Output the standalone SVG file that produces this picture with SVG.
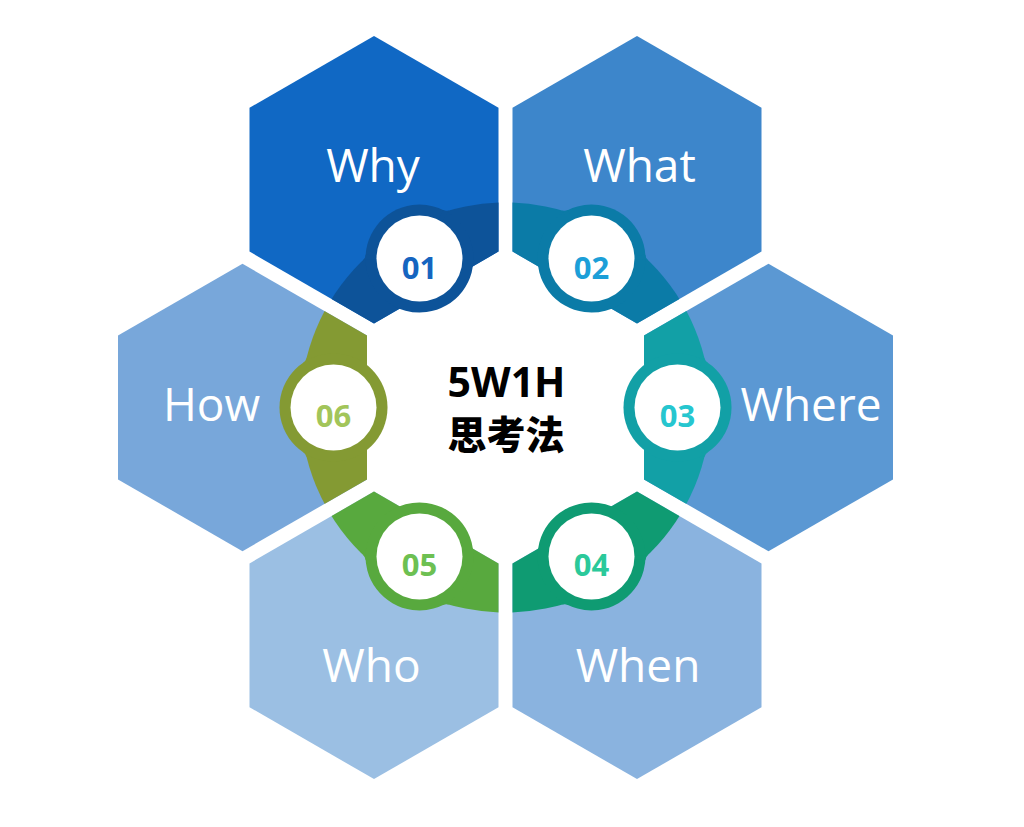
<svg xmlns="http://www.w3.org/2000/svg" xmlns:xlink="http://www.w3.org/1999/xlink" width="1024" height="827" viewBox="0 0 1024 827">
<style>
.lbl{font-family:"Open Sans","Noto Sans",sans-serif;font-size:46px;fill:#ffffff;text-anchor:middle}
.num{font-family:"Open Sans","Noto Sans",sans-serif;font-size:31px;font-weight:700;text-anchor:middle}
.ctr{font-family:"Noto Sans","Noto Sans CJK SC",sans-serif;font-size:41px;font-weight:700;fill:#000000;text-anchor:middle}
.cjk{font-family:"Noto Sans CJK SC",sans-serif;font-size:39px;font-weight:900;fill:#000000;text-anchor:middle}
.inner{fill:#ffffff}
</style>
<defs>
<polygon id="hex" points="0,-143.76 124.5,-71.88 124.5,71.88 0,143.76 -124.5,71.88 -124.5,-71.88"/>
<clipPath id="c1"><use xlink:href="#hex" href="#hex" x="374" y="179.7"/></clipPath>
<clipPath id="c2"><use xlink:href="#hex" href="#hex" x="637" y="179.7"/></clipPath>
<clipPath id="c3"><use xlink:href="#hex" href="#hex" x="768.5" y="407.5"/></clipPath>
<clipPath id="c4"><use xlink:href="#hex" href="#hex" x="637" y="635.3"/></clipPath>
<clipPath id="c5"><use xlink:href="#hex" href="#hex" x="374" y="635.3"/></clipPath>
<clipPath id="c6"><use xlink:href="#hex" href="#hex" x="242.5" y="407.5"/></clipPath>
<g id="badgeShape" fill="currentColor">
<circle cx="172" cy="0" r="54"/>
<path d="M198.95,49.44 A8,8 0 0 1 202.23,44.74 L172,0 Z"/>
<path d="M198.95,-49.44 A8,8 0 0 0 202.23,-44.74 L172,0 Z"/>
</g>
</defs>
<rect x="0" y="0" width="1024" height="827" fill="#ffffff"/>

<g id="node-why">
<use xlink:href="#hex" href="#hex" x="374" y="179.7" fill="#1068C4"/>
<circle cx="505.5" cy="407.5" r="205" fill="#0D5399" clip-path="url(#c1)"/>
<text class="lbl" x="373" y="182">Why</text>
</g>
<g id="node-what">
<use xlink:href="#hex" href="#hex" x="637" y="179.7" fill="#3D86CB"/>
<circle cx="505.5" cy="407.5" r="205" fill="#0B7BA7" clip-path="url(#c2)"/>
<text class="lbl" x="639.5" y="182">What</text>
</g>
<g id="node-where">
<use xlink:href="#hex" href="#hex" x="768.5" y="407.5" fill="#5B98D3"/>
<circle cx="505.5" cy="407.5" r="205" fill="#12A0A6" clip-path="url(#c3)"/>
<text class="lbl" x="811" y="421">Where</text>
</g>
<g id="node-when">
<use xlink:href="#hex" href="#hex" x="637" y="635.3" fill="#8AB3DF"/>
<circle cx="505.5" cy="407.5" r="205" fill="#0F9B72" clip-path="url(#c4)"/>
<text class="lbl" x="638" y="682">When</text>
</g>
<g id="node-who">
<use xlink:href="#hex" href="#hex" x="374" y="635.3" fill="#9BBFE3"/>
<circle cx="505.5" cy="407.5" r="205" fill="#58A93E" clip-path="url(#c5)"/>
<text class="lbl" x="371.5" y="682">Who</text>
</g>
<g id="node-how">
<use xlink:href="#hex" href="#hex" x="242.5" y="407.5" fill="#78A7DA"/>
<circle cx="505.5" cy="407.5" r="205" fill="#849A33" clip-path="url(#c6)"/>
<text class="lbl" x="211.5" y="421">How</text>
</g>

<g id="badge-01">
<use xlink:href="#badgeShape" href="#badgeShape" transform="translate(505.5 407.5) rotate(-120)" style="color:#0D5399"/>
<circle class="inner" cx="419.5" cy="258.54" r="43"/>
<text class="num" x="419.5" y="279" fill="#1565C0">01</text>
</g>
<g id="badge-02">
<use xlink:href="#badgeShape" href="#badgeShape" transform="translate(505.5 407.5) rotate(-60)" style="color:#0B7BA7"/>
<circle class="inner" cx="591.5" cy="258.54" r="43"/>
<text class="num" x="591.5" y="279" fill="#1C9FD8">02</text>
</g>
<g id="badge-03">
<use xlink:href="#badgeShape" href="#badgeShape" transform="translate(505.5 407.5) rotate(0)" style="color:#12A0A6"/>
<circle class="inner" cx="677.5" cy="407.5" r="43"/>
<text class="num" x="677.5" y="427" fill="#26C6CF">03</text>
</g>
<g id="badge-04">
<use xlink:href="#badgeShape" href="#badgeShape" transform="translate(505.5 407.5) rotate(60)" style="color:#0F9B72"/>
<circle class="inner" cx="591.5" cy="556.46" r="43"/>
<text class="num" x="591.5" y="576" fill="#2BC99A">04</text>
</g>
<g id="badge-05">
<use xlink:href="#badgeShape" href="#badgeShape" transform="translate(505.5 407.5) rotate(120)" style="color:#58A93E"/>
<circle class="inner" cx="419.5" cy="556.46" r="43"/>
<text class="num" x="419.5" y="576" fill="#6DC052">05</text>
</g>
<g id="badge-06">
<use xlink:href="#badgeShape" href="#badgeShape" transform="translate(505.5 407.5) rotate(180)" style="color:#849A33"/>
<circle class="inner" cx="333.5" cy="407.5" r="43"/>
<text class="num" x="333.5" y="427" fill="#A2C55A">06</text>
</g>

<g id="center">
<text class="ctr" x="506.5" y="397">5W1H</text>
<text class="cjk" x="506" y="449">思考法</text>
</g>
<g id="connectors"></g>
</svg>
